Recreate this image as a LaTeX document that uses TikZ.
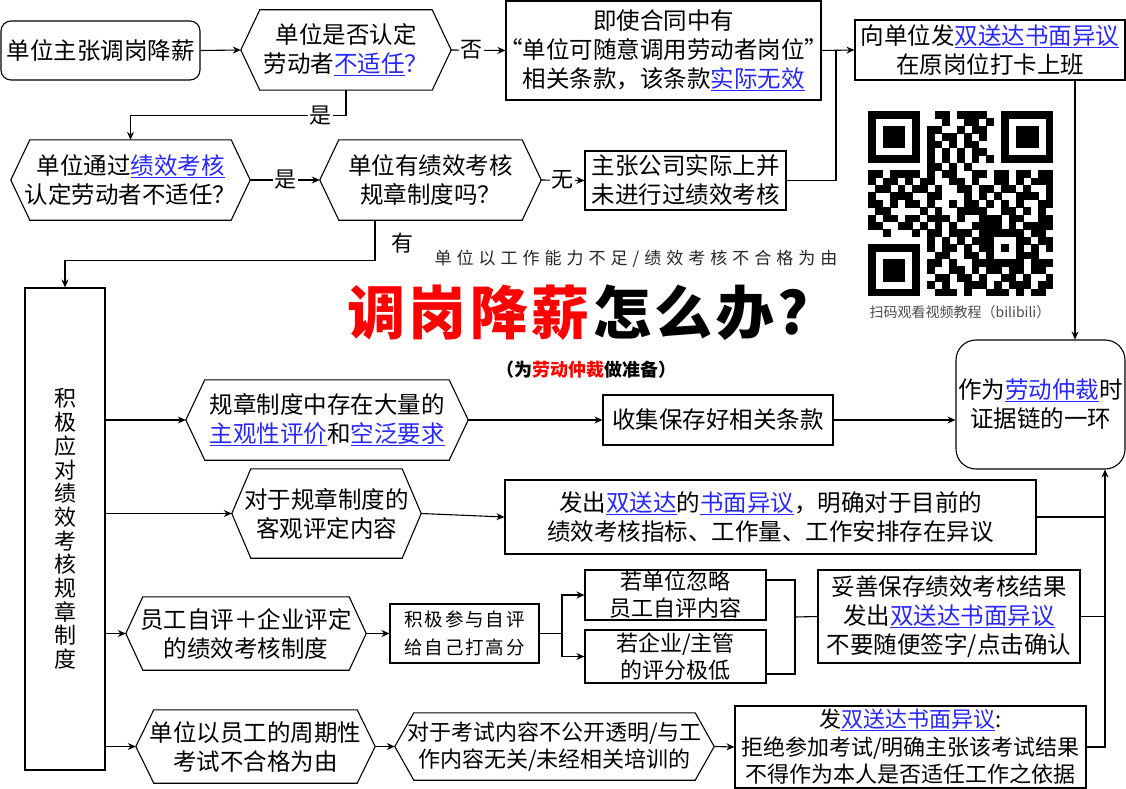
\documentclass[tikz,border=0pt]{standalone}
\usepackage{fontspec}
\setmainfont{Noto Sans CJK SC}
\usetikzlibrary{arrows.meta}

\definecolor{linkblue}{RGB}{40,40,255}
\definecolor{titlered}{RGB}{255,0,0}

% font sizes
\newcommand\mainfs{\fontsize{23.5}{29}\selectfont}
\newcommand\smallfs{\fontsize{22}{27}\selectfont}

% underlined blue link text
\newcommand\lk[1]{{\color{linkblue}\setbox0\hbox{#1}\rlap{\rule[-3.5pt]{\wd0}{1.1pt}}\box0}}

% letter-spaced text: \sptok <chars>\relax
\newskip\spgap
\def\sptok#1{\ifx#1\relax\else#1\hskip\spgap\relax\expandafter\sptok\fi}

% hexagon outline around a rectangular node
\newcommand\hexframe[2]{\draw[bx] (#1.west) -- ([xshift=#2]#1.north west) -- ([xshift=-#2]#1.north east) -- (#1.east) -- ([xshift=-#2]#1.south east) -- ([xshift=#2]#1.south west) -- cycle;}

% QR code modules
\newcount\qrcol
\def\qrscan#1{\ifx#1\relax\else\ifx#11\fill[black] (868+\the\qrcol*7.4,111+\qrrow*7.4) rectangle ++(7.7,7.7);\fi\advance\qrcol by 1\relax\expandafter\qrscan\fi}

\begin{document}
\begin{tikzpicture}[x=1pt,y=-1pt,
  bx/.style={draw=black, line width=1.1pt},
  txt/.style={inner sep=0pt, align=center, font=\mainfs},
  rect/.style={txt, bx},
  arr/.style={line width=1.1pt, -{Stealth[length=8pt,width=7pt]}},
  ln/.style={line width=1.1pt},
  lbl/.style={fill=white, inner sep=1.5pt, font=\fontsize{22}{24}\selectfont}]

\fill[white] (0,0) rectangle (1126,789);
\useasboundingbox (0,0) rectangle (1126,789);

% ---- top flow ----
\node[rect, rounded corners=10pt, minimum width=199pt, minimum height=59pt] (r1) at (100.5,50.5) {单位主张调岗降薪};

\node[txt, minimum width=210pt, minimum height=80pt] (h1) at (346,50) {单位是否认定\\劳动者\lk{不适任}{\color{linkblue}？}};
\hexframe{h1}{19pt}

\node[rect, minimum width=315pt, minimum height=99pt] (b1) at (663.5,50.5) {即使合同中有\\\kern-9pt“单位可随意调用劳动者岗位”\kern-9pt\\相关条款，该条款\lk{实际无效}};

\node[rect, minimum width=270pt, minimum height=60pt] (b2) at (990,50) {向单位发\lk{双送达书面异议}\\在原岗位打卡上班};

\node[txt, minimum width=239pt, minimum height=80pt] (h2) at (130.5,180) {单位通过\lk{绩效考核}\\认定劳动者不适任？};
\hexframe{h2}{19pt}

\node[txt, minimum width=221pt, minimum height=80pt] (h3) at (430.5,180) {单位有绩效考核\\规章制度吗？};
\hexframe{h3}{19pt}

\node[rect, minimum width=201pt, minimum height=59pt] (b3) at (685.5,180.5) {主张公司实际上并\\未进行过绩效考核};

% ---- title block ----
\node[font=\fontsize{17}{20}\selectfont, text=black!85, inner sep=0pt] (sub1) at (636,259) {\spgap=5pt\relax\sptok 单位以工作能力不足/绩效考核不合格为由\relax};
\node[font=\fontsize{58}{62}\selectfont\bfseries, inner sep=0pt] (title) at (578,313) {{\color{titlered}\spgap=3.5pt\relax\sptok 调岗降薪\relax}{\spgap=3.5pt\relax\sptok 怎么办\relax}?};
\node[font=\fontsize{18}{20}\selectfont\bfseries, inner sep=0pt] (sub2) at (586,370) {（为\textcolor{titlered}{劳动仲裁}做准备）};

% ---- QR code ----
\foreach \qrline [count=\qrrow from 0] in {
1111111001101111001111111,
1000001000100110101000001,
1011101011001011001011101,
1011101010110101001011101,
1011101011010110001011101,
1000001010101011001000001,
1111111010101010101111111,
0000000011010100000000000,
1101111010110011011011011,
1011010110011010011010111,
0110101101001101101101001,
1001110011000101010011101,
1101011010010110101010011,
0110000101001111001101010,
1011011011101001110110011,
1100110101010011110101111,
0010001011011101111110110,
0000000010101011100011011,
1111111010110101101010101,
1000001001100110100011100,
1011101011010011111110111,
1011101010011010110110110,
1011101001101101001101001,
1000001010100111010111011,
1111111001110100111010110}{\qrcol=0 \expandafter\qrscan\qrline\relax}
\node[font=\fontsize{14}{16}\selectfont, text=black!70, inner sep=0pt] (cap) at (960,312) {扫码观看视频教程（bilibili）};

% ---- lower part ----
\node[rect, minimum width=80pt, minimum height=482pt, font=\fontsize{22}{23.7}\selectfont] (tall) at (65,529) {积\\极\\应\\对\\绩\\效\\考\\核\\规\\章\\制\\度};

\node[rect, rounded corners=20pt, minimum width=169pt, minimum height=129pt] (r2) at (1040.5,404.5) {作为\lk{劳动仲裁}时\\证据链的一环};

\node[txt, minimum width=282pt, minimum height=80pt] (h4) at (327,420) {规章制度中存在大量的\\\lk{主观性评价}和\lk{空泛要求}};
\hexframe{h4}{19pt}

\node[rect, minimum width=230pt, minimum height=50pt] (b4) at (718,420) {收集保存好相关条款};

\node[txt, minimum width=189pt, minimum height=89pt] (h5) at (326.5,513.5) {对于规章制度的\\客观评定内容};
\hexframe{h5}{19pt}

\node[rect, minimum width=531pt, minimum height=74pt] (b5) at (770.5,517) {发出\lk{双送达}的\lk{书面异议}，明确对于目前的\\绩效考核指标、工作量、工作安排存在异议};

\node[txt, minimum width=240pt, minimum height=73pt] (h6) at (246,633.5) {员工自评＋企业评定\\的绩效考核制度};
\hexframe{h6}{17pt}

\node[rect, minimum width=149pt, minimum height=59pt, font=\fontsize{18.5}{28}\selectfont] (b6) at (464.5,633.5) {{\spgap=2pt\relax\sptok 积极参与自评\relax}\\{\spgap=2pt\relax\sptok 给自己打高分\relax}};

\node[rect, minimum width=181pt, minimum height=50pt, font=\smallfs] (b7) at (675.5,595) {若单位忽略\\员工自评内容};
\node[rect, minimum width=181pt, minimum height=53pt, font=\smallfs] (b8) at (675.5,656.5) {若企业/主管\\的评分极低};

\node[rect, minimum width=262pt, minimum height=93pt] (b9) at (949,616.5) {妥善保存绩效考核结果\\发出\lk{双送达书面异议}\\不要随便签字/点击确认};

\node[txt, minimum width=239pt, minimum height=73pt] (h7) at (255.5,746.5) {单位以员工的周期性\\考试不合格为由};
\hexframe{h7}{18pt}

\node[txt, minimum width=319pt, minimum height=67pt, font=\smallfs] (h8) at (554.5,746.5) {对于考试内容不公开透明/与工\\作内容无关/未经相关培训的};
\hexframe{h8}{19pt}

\node[rect, minimum width=351pt, minimum height=82pt, font=\fontsize{22}{27.5}\selectfont] (b10) at (910.5,747) {发\lk{双送达书面异议}:\\拒绝参加考试/明确主张该考试结果\\不得作为本人是否适任工作之依据};

% ---- connectors ----
\draw[arr] (r1.east) -- (h1.west);
\draw[arr] (h1.east) -- node[lbl, pos=0.38]{否} (b1.west);
\draw[arr] (b1.east) -- (b2.west);
\coordinate (j1) at (836,50);
\draw[ln] (b3.east) -| (j1);
\draw[arr] (h1.south) -- ++(0,25) -| node[lbl, pos=0.06]{是} (h2.north);
\draw[arr] (h2.east) -- node[lbl]{是} (h3.west);
\draw[arr] (h3.east) -- node[lbl]{无} (b3.west);
\draw[arr] ([xshift=-55.5pt]h3.south) -- ++(0,40) -| (tall.north);
\node[font=\fontsize{22}{24}\selectfont] (you) at (402,243) {有};

\coordinate (b2o) at ([xshift=85pt]b2.south);
\draw[arr] (b2o) -- (b2o |- r2.north);

\draw[arr] (tall.east |- h4.west) -- (h4.west);
\draw[arr] (tall.east |- h5.west) -- (h5.west);
\draw[arr] (tall.east |- h6.west) -- (h6.west);
\draw[arr] (tall.east |- h7.west) -- (h7.west);

\draw[arr] (h4.east) -- (b4.west);
\draw[arr] (b4.east) -- (b4.east -| r2.west);
\draw[arr] (h5.east) -- (b5.west);

\coordinate (col) at (1105,746.5);
\draw[ln] (b5.east) -- (b5.east -| col);

\draw[arr] (h6.east) -- (b6.west);
\coordinate (sp) at (562,633.5);
\draw[ln] (b6.east) -- (sp);
\draw[arr] (sp) |- (b7.west);
\draw[arr] (sp) |- (b8.west);
\coordinate (mg) at (795,617);
\draw[ln] ([yshift=15pt]b7.east) -| (mg);
\draw[ln] ([yshift=-17.5pt]b8.east) -| (mg);
\draw[ln] (mg) -- (b9.west);
\draw[ln] (b9.east) -- (b9.east -| col);

\draw[arr] (h7.east) -- (h8.west);
\draw[arr] (h8.east) -- (b10.west);
\draw[arr] (b10.east) -| (col |- r2.south);
\end{tikzpicture}
\end{document}
